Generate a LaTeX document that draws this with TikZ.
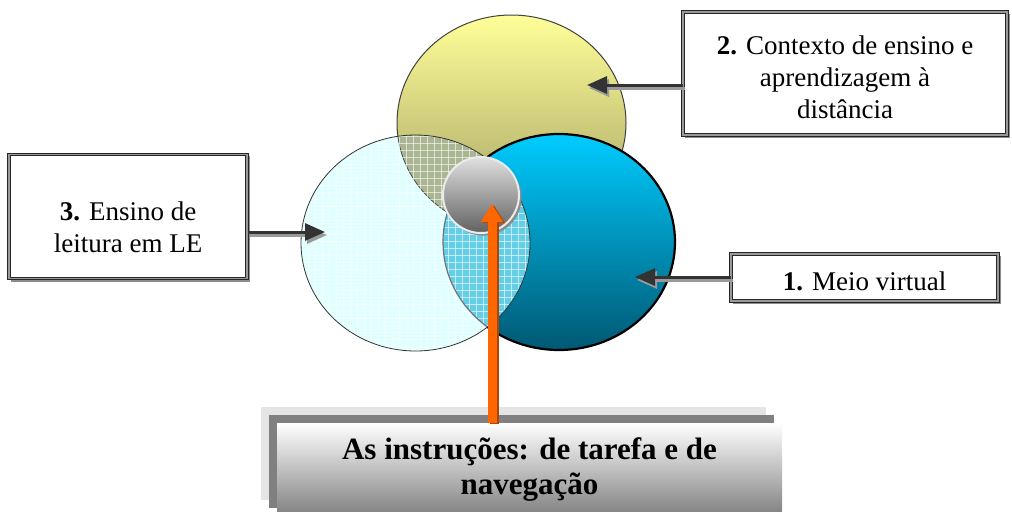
\documentclass[tikz,border=0pt]{standalone}
\usepackage{fontspec}
\setmainfont{Liberation Serif}
\usetikzlibrary{calc,positioning,shadows,arrows.meta}

\definecolor{yellowlight}{RGB}{255,255,153}
\definecolor{yellowdark}{RGB}{160,156,96}
\definecolor{bluelight}{RGB}{0,204,255}
\definecolor{bluedark}{RGB}{0,88,115}
\definecolor{cyanlight}{RGB}{224,255,255}
\definecolor{cyanmid}{RGB}{100,206,230}
\definecolor{olivemix}{RGB}{170,182,145}
\definecolor{orangearrow}{RGB}{255,102,0}
\definecolor{orangeshade}{RGB}{170,70,10}

\begin{document}
\begin{tikzpicture}
  [x=0.5pt, y=-0.5pt,
   box frame/.style={draw=black!85, line width=0.5pt, double=black!40, double distance=0.7pt,
     fill=white, inner sep=0pt,
     general shadow={shadow xshift=1.3pt, shadow yshift=-1.3pt, draw=black!45, line width=0.8pt, fill=white}},
   box text/.style={align=center, font=\fontsize{13.5}{16}\selectfont},
   pointer/.style={draw=black!80, line width=1.5pt, -{Triangle[length=10pt,width=8.5pt]}},
   pointer shadow/.style={pointer, draw=black!40, transform canvas={shift={(1pt,-1.5pt)}}},
   mesh/.style={draw=white, line width=0.3pt, opacity=0.6},
   core/.style={circle, inner sep=0pt, minimum size=38pt, draw=black!8, line width=1pt,
     top color=black!12, bottom color=black!62,
     general shadow={shadow xshift=1.3pt, shadow yshift=-1.3pt, fill=black!45}},
   task box/.style={rectangle, inner sep=0pt, minimum width=252.5pt, minimum height=46.5pt,
     top color=white, bottom color=black!50, align=center,
     font=\fontsize{15.5}{17.5}\selectfont\bfseries,
     general shadow={shadow xshift=-8pt, shadow yshift=8pt, fill=black!10},
     general shadow={shadow xshift=-4pt, shadow yshift=4pt, fill=black!50}},
   main arrow/.style={draw=orangearrow, line width=4.5pt, -{Triangle[length=9pt,width=10.5pt]}},
   main arrow shadow/.style={main arrow, draw=orangeshade, transform canvas={shift={(1pt,-0.6pt)}}}]

  \useasboundingbox (0,0) rectangle (1012,511);

  \def\ContextCircle{(511.5,123) ellipse [x radius=114.5, y radius=108]}
  \def\MediumCircle{(559,242) ellipse [x radius=116, y radius=108]}
  \def\ReadingCircle{(415.5,243) ellipse [x radius=114.5, y radius=108]}

  % the three circles
  \path [top color=yellowlight, bottom color=yellowdark, draw=black!75, line width=0.5pt] \ContextCircle;
  \path [top color=bluelight, bottom color=bluedark] \MediumCircle;
  \draw [black, line width=1.1pt] \MediumCircle;

  \fill [cyanlight] \ReadingCircle;
  \begin{scope}
    \clip \ReadingCircle;
    \fill [olivemix] \ContextCircle;
    \draw [black!70, line width=0.4pt] \ContextCircle;
    \fill [cyanmid] \MediumCircle;
    \foreach \gx in {301,308,...,531}
      \draw [mesh] (\gx,130) -- (\gx,356);
    \foreach \gy in {136,143,...,351}
      \draw [mesh] (296,\gy) -- (535,\gy);
    \draw [black!55, line width=0.6pt] \MediumCircle;
  \end{scope}
  \draw [black!80, line width=0.4pt] \ReadingCircle;

  \node [core] (core) at (481,195) {};

  % the three labels
  \node [box frame, minimum width=119pt, minimum height=62pt] (reading) at (128,216.5) {};
  \node [box text, yshift=-5.5pt] (reading-text) at (reading.center) {\textbf{3.} Ensino de\\leitura em LE};

  \node [box frame, minimum width=162pt, minimum height=61.5pt] (context) at (845,73.5) {};
  \node [box text, yshift=-2pt] (context-text) at (context.center) {\textbf{2.} Contexto de ensino e\\aprendizagem à\\distância};

  \node [box frame, minimum width=133.5pt, minimum height=23.5pt] (medium) at (864.5,277.5) {};
  \node [box text, yshift=-2pt] (medium-text) at (medium.center) {\textbf{1.} Meio virtual};

  \coordinate (tip-reading) at (325,232);
  \coordinate (tip-context) at (587,85);
  \coordinate (tip-medium) at (635,277);

  \draw [pointer shadow] (reading.east |- tip-reading) -- (tip-reading);
  \draw [pointer] (reading.east |- tip-reading) -- (tip-reading);
  \draw [pointer shadow] (context.west |- tip-context) -- (tip-context);
  \draw [pointer] (context.west |- tip-context) -- (tip-context);
  \draw [pointer shadow] (medium.west |- tip-medium) -- (tip-medium);
  \draw [pointer] (medium.west |- tip-medium) -- (tip-medium);

  % the instructions
  \node [task box] (instructions) at (529.5,469.5) {As instruções: de tarefa e de\\navegação};

  \coordinate (tip-core) at (492,204);
  \draw [main arrow shadow] (instructions.north -| tip-core) -- (tip-core);
  \draw [main arrow] (instructions.north -| tip-core) -- (tip-core);
\end{tikzpicture}
\end{document}
